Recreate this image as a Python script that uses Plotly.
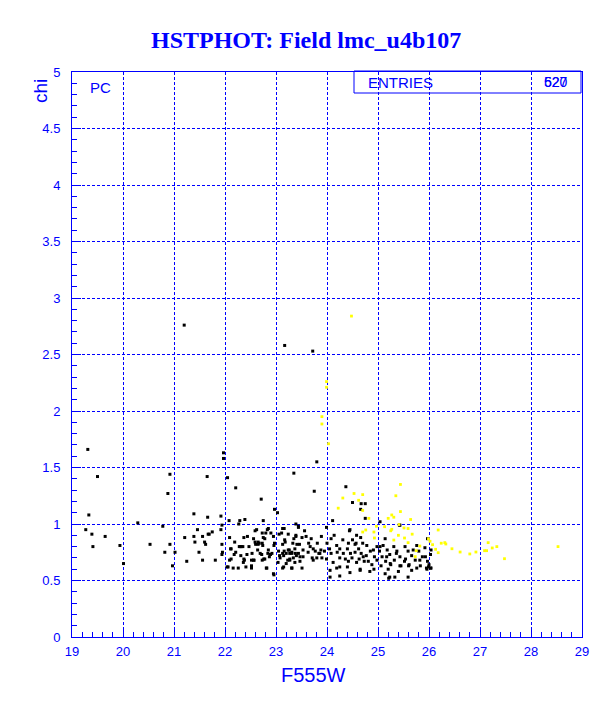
import plotly.graph_objects as go

# ---- data ----
black_x = [
    21.20, 23.17, 23.72, 19.31, 21.97, 21.97, 23.80, 19.50, 20.92, 21.65, 22.05, 20.88, 22.21, 22.71,
    23.35, 23.75, 24.37, 24.50, 24.67, 24.75, 24.66,
    19.33, 20.29, 20.78, 21.39, 21.66, 21.92, 21.94, 22.08, 22.29, 22.39, 22.75, 22.97, 23.03, 23.39,
    23.44, 24.11, 25.04, 25.43, 24.45, 24.75,
    19.27, 19.39, 19.41, 19.65, 19.94, 20.01, 20.53, 20.82, 20.92, 21.02, 20.97, 21.21, 21.25, 21.39,
    21.41, 21.46, 21.49, 21.56, 21.56, 21.60, 21.62, 21.67, 21.69, 21.75, 21.81, 21.92, 21.94, 21.95,
    22.06, 22.09, 22.11, 22.12, 22.16, 22.19, 22.21, 22.28, 22.32, 22.35, 22.31, 22.36, 22.38, 22.37,
    22.41, 22.47, 22.52, 22.52, 22.53, 22.57, 22.59, 22.60, 22.62, 22.65, 22.67, 22.69, 22.73, 22.74,
    22.73, 22.76, 22.75, 22.78, 22.81, 22.83, 22.84, 22.87, 22.89, 22.90, 22.92, 22.95, 22.96, 22.96,
    23.04, 23.06, 23.07, 23.13, 23.13, 23.13, 23.13, 23.16, 23.17, 23.20, 23.20, 23.24, 23.26, 23.27,
    23.27, 23.31, 23.31, 23.37, 23.38, 23.39, 23.40, 23.41, 23.44,
    22.27, 22.85, 22.59, 23.16, 22.80, 22.44, 22.56, 23.11, 22.65, 22.30, 22.73, 22.97, 23.18, 22.12,
    22.64, 22.85, 23.05, 23.24, 21.94, 22.18, 22.43, 22.72, 22.89, 23.15, 22.09, 22.37, 22.56, 22.78,
    23.08, 23.23, 22.04, 22.26, 22.52, 22.82, 23.15, 22.95,
    23.99, 23.56, 24.44, 23.39, 23.51, 23.59, 23.89, 24.14, 24.58, 23.35, 23.69, 24.08, 24.31, 24.50,
    24.66, 23.33, 23.46, 23.64, 23.81, 24.00, 24.19, 24.42, 24.55, 24.70, 23.37, 23.53, 23.73, 23.88,
    24.05, 24.25, 24.40, 24.62, 23.31, 23.44, 23.63, 23.77, 23.84, 23.95, 24.08, 24.20, 24.32, 24.46,
    24.55, 24.67, 23.34, 23.53, 23.71, 23.80, 23.90, 23.99, 24.25, 24.36, 24.49, 24.63, 23.47, 24.12,
    24.42, 24.58, 24.73, 23.31, 23.51, 24.19, 24.40, 24.65, 24.06, 24.25,
    25.42, 25.14, 25.97, 24.78, 24.98, 25.10, 25.31, 25.53, 25.76, 25.92, 24.85, 25.03, 25.18, 25.37,
    25.59, 25.80, 26.04, 24.77, 24.93, 25.08, 25.23, 25.43, 25.66, 25.87, 26.03, 24.81, 24.98, 25.15,
    25.32, 25.52, 25.73, 25.97, 24.88, 25.06, 25.25, 25.45, 25.61, 25.83, 26.00, 24.92, 25.20, 25.40,
    25.66, 25.96, 26.04, 25.23, 25.14,
    25.04, 25.17, 25.36, 25.54, 25.69, 25.82, 25.93, 25.99, 25.95, 26.03, 25.24, 25.43, 25.60, 25.76,
    25.21, 25.33, 25.59, 24.84, 24.65, 24.45, 24.25, 24.06, 24.71, 24.91, 24.57, 23.47, 23.27, 23.73,
    23.86, 23.67,
]
black_y = [
    2.76, 2.58, 2.53, 1.66, 1.63, 1.58, 1.55, 1.42, 1.44, 1.42, 1.41, 1.27, 1.32, 1.22,
    1.45, 1.29, 1.33, 1.19, 1.18, 1.18, 1.13,
    1.08, 1.01, 0.98, 1.09, 1.06, 1.07, 0.99, 1.03, 1.03, 1.04, 1.03, 1.13, 1.10, 1.00,
    0.98, 1.03, 1.02, 0.99, 0.95, 1.05,
    0.95, 0.91, 0.80, 0.89, 0.81, 0.65, 0.82, 0.75, 0.82, 0.75, 0.63, 0.88, 0.67, 0.89,
    0.84, 0.95, 0.75, 0.68, 0.89, 0.84, 0.82, 0.91, 0.91, 0.93, 0.68, 0.95, 0.82, 0.75,
    0.62, 0.88, 0.78, 0.69, 0.61, 0.84, 0.75, 0.80, 0.80, 0.80, 0.72, 0.66, 0.68, 0.88,
    0.62, 0.80, 0.68, 0.63, 0.74, 0.68, 0.84, 0.82, 0.95, 0.82, 0.83, 0.74, 0.92, 0.81,
    0.68, 0.69, 0.88, 0.87, 0.61, 0.95, 0.74, 0.71, 0.73, 0.92, 0.74, 0.89, 0.81, 0.55,
    0.66, 0.91, 0.72, 0.96, 0.82, 0.74, 0.61, 0.76, 0.86, 0.74, 0.65, 0.91, 0.77, 0.74,
    0.69, 0.61, 0.74, 0.66, 0.74, 0.89, 0.72, 0.82, 0.97,
    1.00, 0.96, 0.94, 0.96, 0.92, 0.89, 0.87, 0.92, 0.84, 0.80, 0.83, 0.83, 0.84, 0.78,
    0.77, 0.77, 0.76, 0.77, 0.73, 0.73, 0.73, 0.73, 0.73, 0.72, 0.68, 0.69, 0.68, 0.69,
    0.70, 0.68, 0.62, 0.61, 0.61, 0.61, 0.62, 0.56,
    0.97, 0.94, 0.94, 0.90, 0.88, 0.89, 0.89, 0.90, 0.90, 0.87, 0.87, 0.87, 0.86, 0.86,
    0.88, 0.83, 0.82, 0.83, 0.83, 0.83, 0.81, 0.83, 0.82, 0.83, 0.78, 0.77, 0.78, 0.77,
    0.78, 0.78, 0.78, 0.78, 0.75, 0.74, 0.75, 0.76, 0.74, 0.76, 0.74, 0.75, 0.74, 0.74,
    0.75, 0.74, 0.70, 0.71, 0.70, 0.70, 0.70, 0.69, 0.70, 0.69, 0.70, 0.69, 0.67, 0.66,
    0.67, 0.66, 0.67, 0.61, 0.61, 0.61, 0.62, 0.60, 0.53, 0.54,
    0.99, 0.87, 0.87, 0.81, 0.80, 0.81, 0.80, 0.80, 0.81, 0.79, 0.76, 0.76, 0.77, 0.76,
    0.76, 0.76, 0.77, 0.72, 0.71, 0.71, 0.73, 0.71, 0.72, 0.71, 0.73, 0.67, 0.68, 0.67,
    0.68, 0.67, 0.68, 0.67, 0.64, 0.63, 0.64, 0.63, 0.64, 0.63, 0.64, 0.60, 0.60, 0.58,
    0.59, 0.60, 0.61, 0.53, 0.56,
    0.80, 0.71, 0.74, 0.69, 0.77, 0.68, 0.71, 0.62, 0.61, 0.61, 0.65, 0.63, 0.63, 0.61,
    0.52, 0.53, 0.53, 0.58, 0.59, 0.57, 0.62, 0.59, 0.71, 0.77, 0.83, 0.71, 0.68, 0.68,
    0.74, 0.80,
]

yellow_x = [
    24.48, 23.99, 23.99, 23.90, 23.90, 24.03,
    25.44, 24.53, 24.70, 24.31, 24.62, 25.35, 24.22, 24.70, 25.44, 25.27, 25.31, 25.20, 24.82,
    25.64, 25.41, 24.97, 25.13, 25.51, 25.59, 25.27, 24.76, 24.70, 24.92, 25.25, 25.67, 26.18,
    25.40, 24.93, 25.52, 25.31, 25.59, 26.02, 26.07, 26.24, 26.31, 26.33, 26.13, 26.18, 26.45,
    26.61, 26.80, 26.92, 27.09, 27.13, 27.16, 27.24, 27.33, 27.48, 28.53, 25.82, 25.75, 25.73,
    25.99,
]
yellow_y = [
    2.84, 2.26, 2.21, 1.95, 1.885, 1.71,
    1.35, 1.27, 1.26, 1.23, 1.21, 1.25, 1.14, 1.12, 1.11, 1.08, 1.06, 1.05, 1.05,
    1.04, 0.995, 0.98, 0.976, 0.965, 0.96, 0.953, 0.947, 0.929, 0.929, 0.94, 0.91, 0.947,
    0.90, 0.876, 0.876, 0.858, 0.835, 0.847, 0.817, 0.83, 0.835, 0.823, 0.776, 0.746, 0.781,
    0.752, 0.735, 0.752, 0.764, 0.764, 0.835, 0.788, 0.80, 0.693, 0.80, 0.805, 0.764, 0.711,
    0.87,
]

x_ticks = [19, 20, 21, 22, 23, 24, 25, 26, 27, 28, 29]
y_ticks = [0, 0.5, 1, 1.5, 2, 2.5, 3, 3.5, 4, 4.5, 5]
title_text = "HSTPHOT: Field lmc_u4b107"
entries_a = "527"
entries_b = "620"

BLUE = "#0000ff"
SANS = "Liberation Sans, Arial, sans-serif"

fig = go.Figure()
fig.add_trace(go.Scatter(x=black_x, y=black_y, mode="markers",
                         marker=dict(symbol="square", size=3, color="black", line=dict(width=0)),
                         showlegend=False, hoverinfo="skip"))
fig.add_trace(go.Scatter(x=yellow_x, y=yellow_y, mode="markers",
                         marker=dict(symbol="square", size=2.8, color="#ffff00", line=dict(width=0)),
                         showlegend=False, hoverinfo="skip"))

axis_common = dict(
    showline=True, linecolor=BLUE, linewidth=1, mirror=True,
    showgrid=True, gridcolor=BLUE, gridwidth=1, griddash="3px,2px",
    zeroline=False, ticks="inside", tickcolor=BLUE, ticklen=9, tickwidth=1,
    tickfont=dict(family=SANS, size=13, color=BLUE),
)

fig.update_xaxes(range=[19, 29], tickvals=x_ticks, ticktext=[str(v) for v in x_ticks],
                 minor=dict(dtick=0.2, tick0=19, ticks="inside", ticklen=5, tickcolor=BLUE, showgrid=False),
                 ticklabelstandoff=2, **axis_common)
fig.update_yaxes(range=[0, 5], tickvals=y_ticks, ticktext=[f"{v:g}" for v in y_ticks],
                 minor=dict(dtick=0.1, tick0=0, ticks="inside", ticklen=5, tickcolor=BLUE, showgrid=False),
                 ticklabelstandoff=8, **axis_common)

W, H = 612, 709
L, R, T, B = 72, 582, 72, 637
def px(xp):
    return (xp - L) / (R - L)
def py(yp):
    return (B - yp) / (B - T)

annotations = [
    dict(text="<b>" + title_text + "</b>", x=px(306), y=py(40), xref="paper", yref="paper",
         xanchor="center", yanchor="middle", showarrow=False,
         font=dict(family="Liberation Serif, Times New Roman, serif", size=24, color=BLUE)),
    dict(text="F555W", x=px(313), y=py(675), xref="paper", yref="paper",
         xanchor="center", yanchor="middle", showarrow=False,
         font=dict(family=SANS, size=20, color=BLUE)),
    dict(text="chi", x=px(40), y=py(91), xref="paper", yref="paper", textangle=-90,
         xanchor="center", yanchor="middle", showarrow=False,
         font=dict(family=SANS, size=19, color=BLUE)),
    dict(text="PC", x=px(88), y=py(87), xref="paper", yref="paper",
         xanchor="left", yanchor="middle", showarrow=False,
         font=dict(family=SANS, size=15, color=BLUE)),
    dict(text="ENTRIES", x=px(366), y=py(82), xref="paper", yref="paper",
         xanchor="left", yanchor="middle", showarrow=False,
         font=dict(family=SANS, size=15, color=BLUE)),
    dict(text=entries_a, x=px(570), y=py(82), xref="paper", yref="paper",
         xanchor="right", yanchor="middle", showarrow=False,
         font=dict(family=SANS, size=14, color=BLUE)),
    dict(text=entries_b, x=px(570), y=py(82), xref="paper", yref="paper",
         xanchor="right", yanchor="middle", showarrow=False,
         font=dict(family=SANS, size=14, color=BLUE)),
]

shapes = [
    dict(type="rect", xref="paper", yref="paper", x0=px(354), x1=px(581), y0=py(93), y1=py(71),
         line=dict(color=BLUE, width=1), fillcolor="rgba(0,0,0,0)"),
]

fig.update_layout(
    width=W, height=H,
    margin=dict(l=L, r=W - R, t=T, b=H - B, pad=0),
    paper_bgcolor="white", plot_bgcolor="white",
    annotations=annotations, shapes=shapes,
    showlegend=False,
)

fig.write_html("out.html", config={"displayModeBar": False},
               post_script="document.body.style.margin='0';document.body.style.overflow='hidden';")
